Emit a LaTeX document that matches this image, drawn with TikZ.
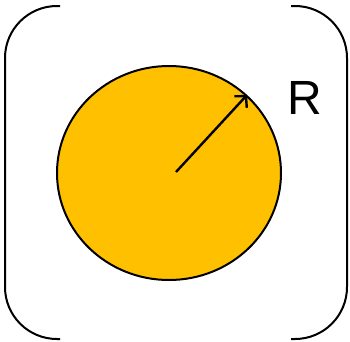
\documentclass[tikz,border=0pt]{standalone}
\usepackage{fontspec}
\setmainfont{Liberation Sans}
\usetikzlibrary{shapes.geometric,arrows.meta}
\definecolor{discfill}{HTML}{FFC000}
\begin{document}
\begin{tikzpicture}[x=1pt, y=-1pt, >={Straight Barb[length=8pt,width=17pt]}, line width=2pt,
  bracket/.style={rounded corners=52pt},
  disc/.style={ellipse, draw, fill=discfill, minimum width=224pt, minimum height=214pt, inner sep=0pt}]
  \useasboundingbox (0,0) rectangle (350,341);
  % Klammern links und rechts
  \draw[bracket] (60,6) -- (5,6) -- (5,339) -- (60,339);
  \draw[bracket] (291,6) -- (347,6) -- (347,339) -- (291,339);
  % Kreisscheibe mit Radius
  \node[disc] (disc) at (169,173) {};
  \coordinate (mid) at (176,172);
  \draw[->, line width=2.4pt] (mid) -- (disc.45);
  \node[font=\fontsize{48}{48}\selectfont] (radius) at (305,98) {R};
\end{tikzpicture}
\end{document}
